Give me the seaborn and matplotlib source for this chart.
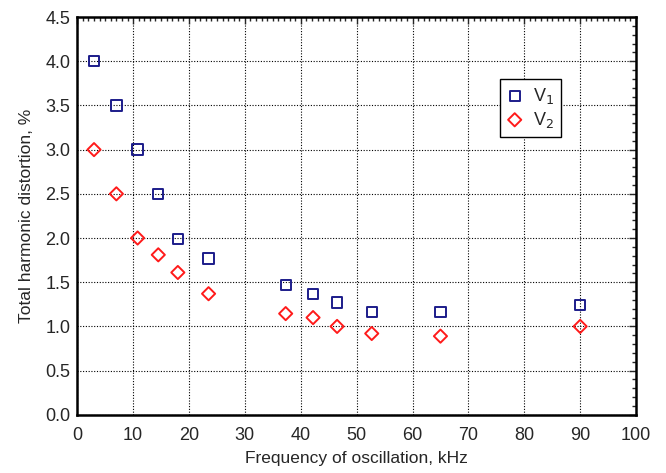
import matplotlib
matplotlib.use("Agg")
import matplotlib.pyplot as plt
import seaborn as sns
import pandas as pd
from matplotlib.ticker import MultipleLocator

freq_v1 = [3.0, 7.0, 10.8, 14.5, 18.0, 23.5, 37.3, 42.2, 46.5, 52.7, 65.0, 90.0]
thd_v1 = [4.0, 3.5, 3.0, 2.5, 1.99, 1.77, 1.47, 1.37, 1.27, 1.16, 1.16, 1.24]
freq_v2 = [3.0, 7.0, 10.8, 14.5, 18.0, 23.5, 37.3, 42.2, 46.5, 52.7, 65.0, 90.0]
thd_v2 = [3.0, 2.5, 2.0, 1.81, 1.61, 1.37, 1.145, 1.10, 1.0, 0.92, 0.89, 1.0]

sns.set_style("white")
plt.rcParams['font.family'] = ['Liberation Sans', 'DejaVu Sans']

df1 = pd.DataFrame({'x': freq_v1, 'y': thd_v1})
df2 = pd.DataFrame({'x': freq_v2, 'y': thd_v2})

fig = plt.figure(figsize=(6.66, 4.73), dpi=100)
ax = fig.add_axes([0.116, 0.123, 0.839, 0.841])

sns.scatterplot(data=df1, x='x', y='y', marker='s', s=55, facecolor='none',
                edgecolor='#1c1c8a', linewidth=1.4, label='V$_1$', ax=ax, zorder=3)
sns.scatterplot(data=df2, x='x', y='y', marker='D', s=45, facecolor='none',
                edgecolor='#ff1a1a', linewidth=1.4, label='V$_2$', ax=ax, zorder=3)

ax.set_xlim(0, 100)
ax.set_ylim(0, 4.5)
ax.xaxis.set_major_locator(MultipleLocator(10))
ax.xaxis.set_minor_locator(MultipleLocator(1))
ax.yaxis.set_major_locator(MultipleLocator(0.5))
ax.yaxis.set_minor_locator(MultipleLocator(0.1))
ax.yaxis.set_major_formatter(plt.FormatStrFormatter('%.1f'))

ax.grid(True, which='major', color='black', linestyle=(0, (1, 1.5)), linewidth=0.8)
ax.tick_params(which='both', direction='in', top=True, right=True, labelsize=13)
ax.tick_params(axis='x', pad=9)
ax.tick_params(axis='y', pad=5)
ax.tick_params(which='major', length=5, width=1)
ax.tick_params(which='minor', length=3, width=1)
for sp in ax.spines.values():
    sp.set_linewidth(1.8)
    sp.set_color('black')

ax.set_xlabel('Frequency of oscillation, kHz', fontsize=12.5, labelpad=5)
ax.set_ylabel('Total harmonic distortion, %', fontsize=12.5, labelpad=8)

leg = ax.legend(loc='upper left', bbox_to_anchor=(0.757, 0.845), fontsize=13,
                frameon=True, fancybox=False, edgecolor='black', framealpha=1,
                handlelength=0.8, handletextpad=0.6, borderpad=0.4,
                labelspacing=0.2, borderaxespad=0)
leg.get_frame().set_linewidth(1.0)

fig.savefig('out.png', dpi=100)
